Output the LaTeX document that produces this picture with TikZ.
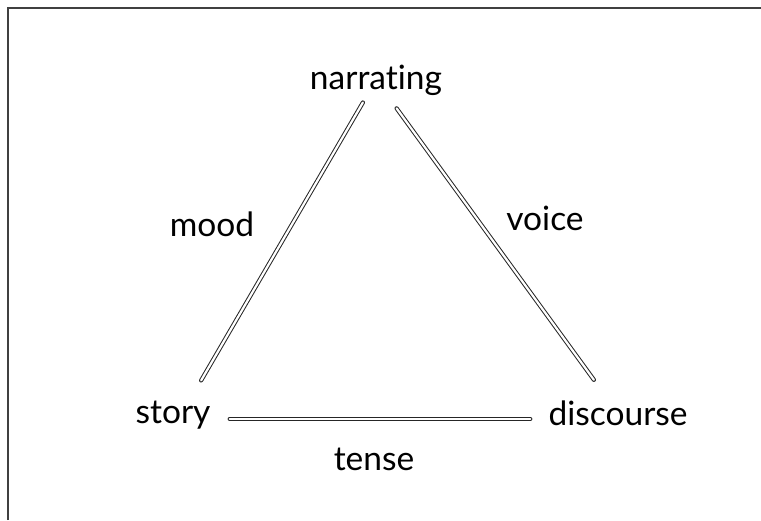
\documentclass[tikz,border=0pt]{standalone}
\usepackage{fontspec}
\setmainfont{Lato}[Ligatures={NoCommon}]
\usetikzlibrary{positioning}

\tikzset{
  term/.style={font=\fontsize{33.5}{40}\selectfont, inner sep=0pt},
  link/.style={draw=black!85, line width=1pt, double=white, double distance=2.2pt, line cap=round},
}

\begin{document}
\begin{tikzpicture}[x=1pt, y=-1pt]
\useasboundingbox (0,0) rectangle (761,520);
% frame
\draw[black!75, line width=1.5pt] (8,520) -- (8,8) -- (761,8);

% corners
\node[term] (narr) at (376,80) {narrating};
\node[term] (story) at (173,415) {story};
\node[term] (disc) at (618,413) {discourse};

% sides
\node[term] (mood) at (212,224) {mood};
\node[term] (voice) at (545,218) {voice};
\node[term] (tense) at (374,459) {tense};

\draw[link, shorten <=26pt, shorten >=40pt] (narr.center) -- ([xshift=8pt]story.center);
\draw[link, shorten <=35pt, shorten >=41pt] (narr.center) -- (disc.center);
\draw[link] ([xshift=19pt, yshift=-4pt]story.east) -- ([xshift=-18pt, yshift=-4pt]story.east -| disc.west);
\end{tikzpicture}
\end{document}
